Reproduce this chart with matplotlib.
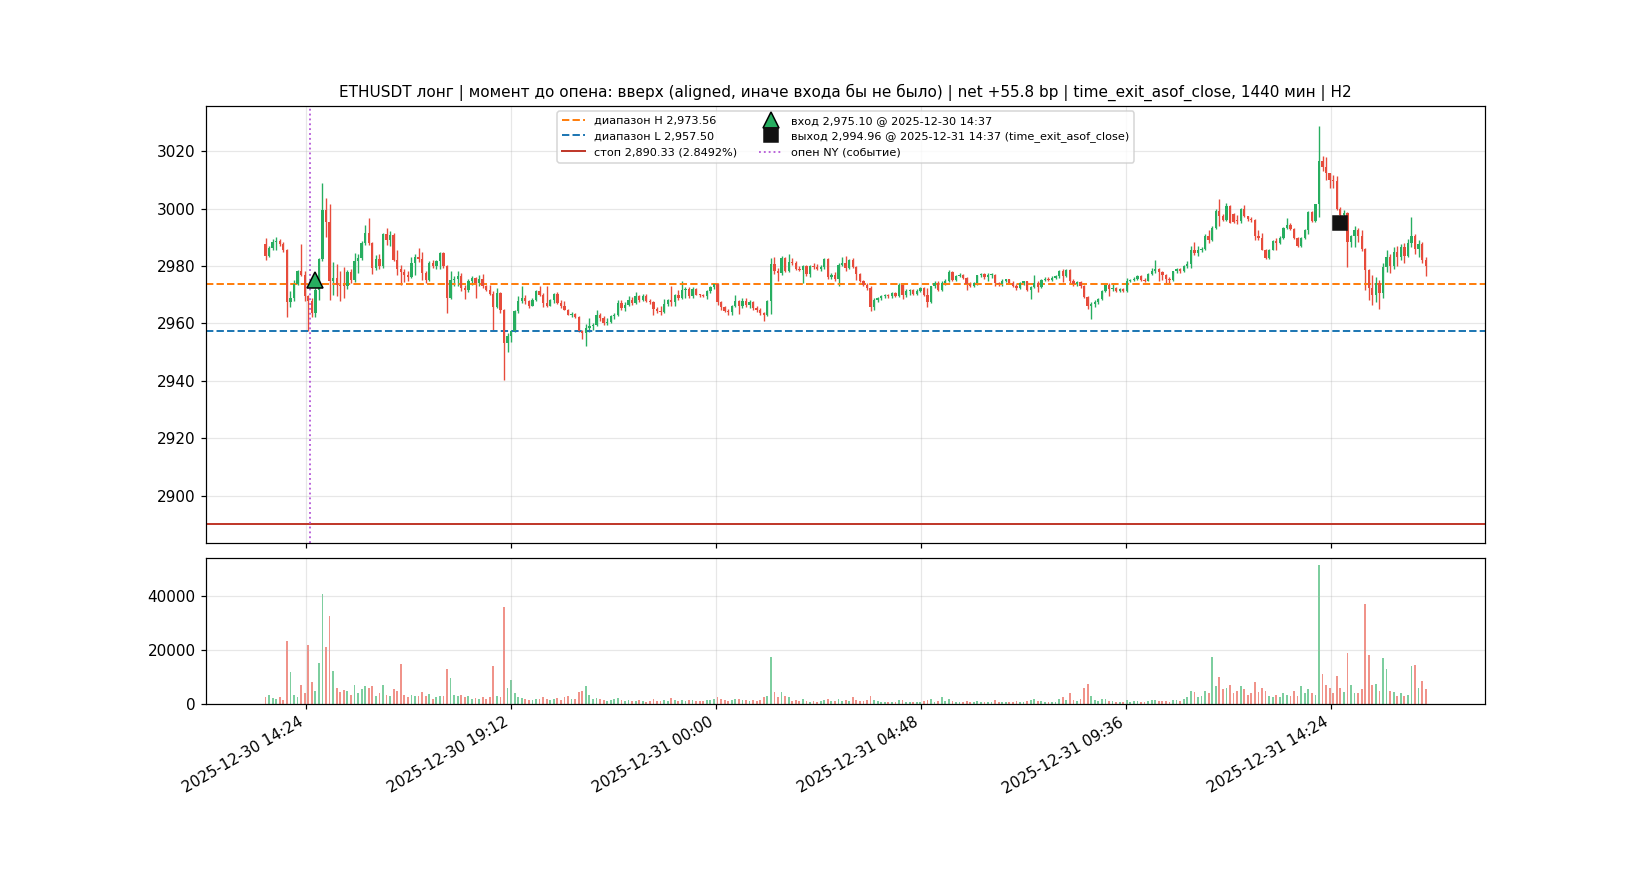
import numpy as np
import pandas as pd
import matplotlib
matplotlib.use("Agg")
import matplotlib.pyplot as plt
import matplotlib.dates as mdates

# 5-minute ETHUSDT candles, first bar 2025-12-30 13:27
START = "2025-12-30 13:27"
opens = [
    2987.7, 2983.4, 2986.3, 2988.3, 2988.8, 2987.8, 2985.5, 2967.4, 2969.0, 2973.7,
    2978.1, 2976.7, 2969.4, 2967.7, 2963.6, 2971.7, 2982.4, 2999.6, 2995.3, 2974.6,
    2975.8, 2973.5, 2973.2, 2973.0, 2977.9, 2975.0, 2981.6, 2982.8, 2988.0, 2991.5,
    2988.0, 2979.3, 2982.4, 2979.9, 2991.2, 2989.2, 2990.9, 2982.2, 2979.0, 2977.9,
    2976.9, 2976.2, 2981.0, 2983.0, 2982.6, 2977.6, 2975.2, 2981.0, 2979.9, 2981.6,
    2984.5, 2979.9, 2969.0, 2975.2, 2975.5, 2976.6, 2972.3, 2971.5, 2974.6, 2975.8,
    2974.1, 2975.5, 2973.1, 2971.8, 2970.3, 2965.7, 2970.6, 2964.8, 2953.1, 2955.7,
    2957.2, 2964.2, 2967.7, 2968.8, 2967.7, 2966.2, 2968.3, 2971.2, 2970.0, 2967.1,
    2966.2, 2968.0, 2970.3, 2967.1, 2965.9, 2964.8, 2963.0, 2963.3, 2962.4, 2957.2,
    2956.7, 2958.4, 2959.2, 2959.6, 2963.0, 2961.9, 2960.1, 2960.5, 2962.6, 2963.0,
    2967.1, 2965.3, 2966.5, 2968.3, 2967.0, 2969.6, 2968.1, 2969.7, 2967.9, 2967.3,
    2965.0, 2964.4, 2964.0, 2966.9, 2968.0, 2967.6, 2970.0, 2969.0, 2971.5, 2972.0,
    2969.4, 2972.1, 2970.0, 2969.8, 2969.5, 2971.2, 2972.6, 2973.6, 2967.4, 2965.6,
    2964.4, 2964.0, 2966.0, 2967.9, 2966.0, 2967.9, 2966.3, 2967.4, 2965.3, 2964.8,
    2963.6, 2963.0, 2967.7, 2980.7, 2978.1, 2977.6, 2982.8, 2978.1, 2981.4, 2980.9,
    2979.0, 2978.7, 2979.9, 2977.2, 2979.9, 2979.5, 2979.0, 2979.5, 2982.4, 2976.0,
    2977.0, 2975.6, 2980.5, 2980.9, 2979.2, 2982.2, 2979.5, 2977.2, 2974.9, 2973.5,
    2972.3, 2965.6, 2968.3, 2968.8, 2969.4, 2969.8, 2969.5, 2970.5, 2969.6, 2973.5,
    2969.8, 2971.4, 2971.6, 2970.3, 2971.3, 2972.3, 2969.8, 2967.4, 2972.9, 2974.0,
    2971.8, 2974.2, 2974.8, 2977.9, 2975.2, 2976.5, 2977.0, 2975.8, 2973.7, 2973.1,
    2973.9, 2976.7, 2977.1, 2976.1, 2976.8, 2977.0, 2974.0, 2973.6, 2974.9, 2975.3,
    2974.2, 2973.2, 2972.3, 2974.0, 2974.6, 2971.8, 2972.8, 2974.0, 2972.6, 2975.2,
    2975.6, 2975.1, 2975.9, 2976.4, 2978.4, 2976.4, 2978.5, 2974.6, 2973.6, 2974.3,
    2972.9, 2969.1, 2965.9, 2966.8, 2967.5, 2968.4, 2971.4, 2973.5, 2971.9, 2972.4,
    2971.2, 2972.0, 2971.2, 2974.8, 2975.0, 2975.6, 2976.6, 2975.0, 2974.9, 2977.3,
    2978.1, 2978.9, 2977.8, 2977.0, 2975.5, 2975.0, 2978.1, 2979.0, 2978.2, 2979.9,
    2980.8, 2985.7, 2984.5, 2985.4, 2986.0, 2990.3, 2988.9, 2993.2, 2999.1, 2997.5,
    2996.0, 3001.0, 2998.0, 2996.0, 2995.6, 2999.9, 2997.3, 2996.4, 2996.1, 2990.3,
    2989.7, 2985.7, 2982.8, 2985.7, 2988.6, 2988.1, 2989.8, 2993.2, 2994.4, 2992.9,
    2989.8, 2986.9, 2989.8, 2992.4, 2998.7, 2995.6, 3001.4, 3016.7, 3014.5, 3012.2,
    3009.9, 3009.5, 2999.9, 2997.9, 2998.6, 2988.2, 2990.3, 2992.4, 2990.6, 2985.9,
    2978.7, 2972.3, 2970.0, 2974.0, 2970.5, 2979.5, 2983.0, 2980.0, 2985.0, 2983.0,
    2986.5, 2983.5, 2988.0, 2990.5, 2986.0, 2987.5, 2982.0,
]
highs = [
    2989.8, 2986.9, 2989.5, 2990.0, 2989.5, 2988.5, 2985.8, 2971.2, 2975.2, 2978.7,
    2987.8, 2978.1, 2970.0, 2968.8, 2972.5, 2982.8, 3008.9, 3003.7, 3001.6, 2981.3,
    2980.7, 2978.1, 2979.5, 2978.5, 2979.0, 2984.5, 2984.2, 2988.6, 2994.1, 2996.7,
    2988.5, 2983.9, 2984.2, 2991.5, 2993.2, 2992.1, 2991.5, 2985.7, 2980.5, 2979.1,
    2978.3, 2983.0, 2984.2, 2986.3, 2984.8, 2978.2, 2981.6, 2982.0, 2982.2, 2984.8,
    2985.0, 2980.2, 2978.1, 2976.5, 2978.1, 2977.5, 2973.5, 2975.6, 2976.4, 2976.0,
    2977.0, 2977.3, 2973.5, 2973.5, 2971.2, 2972.3, 2971.0, 2965.0, 2956.5, 2957.8,
    2964.8, 2969.6, 2973.1, 2969.8, 2968.3, 2968.8, 2971.8, 2972.9, 2970.6, 2972.9,
    2968.5, 2970.6, 2970.8, 2968.3, 2967.7, 2965.1, 2964.0, 2963.6, 2962.7, 2957.8,
    2959.9, 2961.9, 2960.1, 2964.8, 2963.6, 2962.5, 2962.0, 2963.0, 2963.6, 2968.3,
    2968.0, 2967.6, 2969.4, 2969.2, 2970.8, 2970.0, 2970.4, 2970.2, 2968.4, 2967.9,
    2965.8, 2966.0, 2968.6, 2968.5, 2972.9, 2970.4, 2971.8, 2974.6, 2972.6, 2972.8,
    2972.6, 2972.3, 2970.3, 2970.2, 2971.5, 2973.0, 2974.1, 2973.9, 2967.9, 2966.2,
    2965.0, 2966.5, 2969.8, 2968.3, 2968.8, 2968.8, 2968.0, 2967.8, 2966.0, 2965.5,
    2964.0, 2968.2, 2982.8, 2983.0, 2979.4, 2983.4, 2983.2, 2984.2, 2982.8, 2981.9,
    2979.9, 2980.2, 2980.4, 2980.5, 2981.0, 2980.7, 2980.5, 2982.9, 2982.9, 2977.6,
    2977.9, 2981.0, 2983.0, 2983.4, 2982.5, 2982.8, 2980.1, 2977.7, 2975.2, 2974.2,
    2972.9, 2968.7, 2969.2, 2969.8, 2970.2, 2970.4, 2971.0, 2970.9, 2974.1, 2974.0,
    2971.9, 2972.0, 2972.0, 2971.9, 2972.6, 2972.7, 2972.3, 2973.2, 2974.6, 2974.6,
    2974.8, 2975.3, 2978.7, 2978.3, 2976.9, 2977.6, 2977.3, 2976.0, 2974.5, 2974.3,
    2977.0, 2977.6, 2977.4, 2977.5, 2977.4, 2977.3, 2974.4, 2975.4, 2975.6, 2975.6,
    2974.8, 2973.8, 2974.4, 2974.9, 2974.7, 2973.2, 2977.0, 2974.9, 2975.6, 2976.0,
    2976.2, 2976.4, 2977.0, 2978.7, 2978.8, 2978.9, 2978.9, 2975.3, 2974.6, 2974.8,
    2973.3, 2969.5, 2967.5, 2968.3, 2968.8, 2971.8, 2973.8, 2973.9, 2973.7, 2972.8,
    2972.3, 2972.4, 2975.8, 2975.6, 2976.1, 2977.0, 2977.0, 2975.8, 2977.6, 2979.3,
    2982.2, 2979.3, 2978.4, 2977.3, 2976.1, 2978.4, 2979.3, 2979.3, 2980.5, 2981.9,
    2986.9, 2988.2, 2986.8, 2986.6, 2991.3, 2992.4, 2993.8, 2999.9, 3003.3, 2998.1,
    3002.0, 3001.3, 2998.3, 2997.6, 3000.2, 3001.1, 2997.5, 2997.0, 2996.4, 2992.6,
    2991.5, 2985.9, 2985.9, 2988.9, 2989.8, 2990.3, 2993.6, 2996.7, 2994.8, 2993.2,
    2990.1, 2990.1, 2992.8, 2999.1, 2999.0, 3001.7, 3028.9, 3018.2, 3018.0, 3012.5,
    3011.8, 3011.3, 3000.4, 2999.4, 2998.7, 2990.9, 2994.0, 2993.2, 2992.4, 2986.4,
    2979.0, 2977.0, 2976.0, 2975.0, 2981.0, 2985.5, 2984.0, 2986.5, 2987.0, 2987.5,
    2988.0, 2989.5, 2997.2, 2991.0, 2989.0, 2988.5, 2983.0,
]
lows = [
    2982.0, 2983.0, 2985.5, 2985.5, 2987.0, 2985.0, 2962.4, 2965.6, 2967.7, 2973.3,
    2976.4, 2967.7, 2957.5, 2962.1, 2962.4, 2968.2, 2981.6, 2990.0, 2968.2, 2970.0,
    2969.7, 2967.9, 2969.0, 2972.0, 2974.0, 2974.5, 2977.5, 2982.2, 2987.4, 2987.4,
    2977.3, 2978.7, 2979.1, 2979.3, 2987.4, 2986.8, 2981.6, 2977.0, 2973.5, 2974.4,
    2974.8, 2975.8, 2977.0, 2981.5, 2975.2, 2974.1, 2974.9, 2979.3, 2979.0, 2979.1,
    2979.2, 2963.6, 2968.5, 2973.0, 2973.0, 2971.2, 2968.4, 2970.8, 2973.5, 2968.8,
    2972.9, 2972.3, 2971.2, 2970.0, 2957.8, 2965.3, 2963.8, 2940.4, 2949.9, 2953.4,
    2957.0, 2963.8, 2967.1, 2966.8, 2965.3, 2965.9, 2967.7, 2969.6, 2965.7, 2965.7,
    2965.9, 2967.0, 2966.8, 2965.3, 2964.6, 2962.9, 2962.1, 2961.9, 2956.9, 2954.6,
    2952.2, 2957.0, 2957.6, 2959.0, 2961.0, 2959.6, 2959.4, 2960.0, 2961.5, 2962.7,
    2964.5, 2964.3, 2966.2, 2966.3, 2966.8, 2967.5, 2967.8, 2967.4, 2966.6, 2963.0,
    2963.5, 2963.0, 2963.7, 2966.0, 2966.2, 2966.0, 2968.0, 2968.5, 2968.8, 2969.0,
    2969.0, 2969.8, 2969.3, 2969.2, 2968.6, 2970.5, 2972.0, 2966.5, 2964.8, 2963.9,
    2963.0, 2963.0, 2965.7, 2963.2, 2965.4, 2965.6, 2965.5, 2964.8, 2964.0, 2963.0,
    2961.0, 2962.6, 2963.3, 2977.2, 2974.6, 2977.0, 2977.8, 2977.9, 2980.5, 2978.7,
    2978.2, 2974.1, 2976.6, 2976.0, 2978.9, 2978.6, 2978.1, 2979.0, 2975.5, 2975.3,
    2974.9, 2972.9, 2980.0, 2978.4, 2978.9, 2979.2, 2975.2, 2974.5, 2973.1, 2971.8,
    2964.4, 2964.8, 2967.6, 2968.2, 2968.7, 2969.0, 2969.0, 2969.2, 2969.2, 2968.6,
    2969.2, 2970.0, 2969.8, 2969.9, 2971.0, 2969.4, 2965.6, 2967.0, 2972.3, 2971.2,
    2971.4, 2973.5, 2974.4, 2974.9, 2974.8, 2976.0, 2975.4, 2971.8, 2972.8, 2972.6,
    2973.5, 2976.2, 2975.5, 2974.7, 2975.8, 2973.2, 2973.0, 2973.2, 2974.4, 2973.9,
    2972.8, 2971.7, 2972.0, 2973.4, 2971.4, 2968.6, 2972.4, 2971.1, 2972.2, 2974.8,
    2974.6, 2974.7, 2975.4, 2975.8, 2974.4, 2976.0, 2973.9, 2973.0, 2973.2, 2972.5,
    2968.7, 2965.0, 2961.4, 2965.6, 2966.9, 2968.0, 2971.0, 2969.4, 2971.2, 2970.8,
    2970.9, 2970.9, 2970.9, 2974.3, 2974.6, 2975.2, 2974.6, 2974.4, 2974.6, 2976.9,
    2977.6, 2974.6, 2975.2, 2973.8, 2973.8, 2974.7, 2977.6, 2977.5, 2977.8, 2979.3,
    2979.3, 2983.8, 2983.4, 2984.7, 2985.4, 2988.0, 2988.7, 2992.9, 2993.8, 2995.5,
    2995.7, 2994.8, 2994.9, 2994.5, 2995.0, 2997.1, 2995.8, 2995.4, 2989.2, 2988.9,
    2985.4, 2982.4, 2982.5, 2985.4, 2985.7, 2987.8, 2989.5, 2992.9, 2992.5, 2989.4,
    2986.6, 2986.6, 2989.4, 2991.3, 2995.2, 2995.2, 2997.1, 3013.0, 3010.0, 3007.2,
    3007.2, 2999.6, 2996.6, 2997.2, 2979.6, 2986.6, 2986.6, 2988.5, 2985.2, 2971.7,
    2968.0, 2966.5, 2967.5, 2965.0, 2969.0, 2978.0, 2977.5, 2979.0, 2980.0, 2982.0,
    2981.0, 2983.0, 2986.5, 2984.0, 2983.0, 2981.0, 2976.5,
]
closes = [
    2983.4, 2986.3, 2988.3, 2988.8, 2987.8, 2985.5, 2967.4, 2969.0, 2973.7, 2978.1,
    2976.7, 2969.4, 2967.7, 2963.6, 2971.7, 2982.4, 2999.6, 2995.3, 2974.6, 2975.8,
    2973.5, 2973.2, 2973.0, 2977.9, 2975.0, 2981.6, 2982.8, 2988.0, 2991.5, 2988.0,
    2979.3, 2982.4, 2979.9, 2991.2, 2989.2, 2990.9, 2982.2, 2979.0, 2977.9, 2976.9,
    2976.2, 2981.0, 2983.0, 2982.6, 2977.6, 2975.2, 2981.0, 2979.9, 2981.6, 2984.5,
    2979.9, 2969.0, 2975.2, 2975.5, 2976.6, 2972.3, 2971.5, 2974.6, 2975.8, 2974.1,
    2975.5, 2973.1, 2971.8, 2970.3, 2965.7, 2970.6, 2964.8, 2953.1, 2955.7, 2957.2,
    2964.2, 2967.7, 2968.8, 2967.7, 2966.2, 2968.3, 2971.2, 2970.0, 2967.1, 2966.2,
    2968.0, 2970.3, 2967.1, 2965.9, 2964.8, 2963.0, 2963.3, 2962.4, 2957.2, 2956.7,
    2958.4, 2959.2, 2959.6, 2963.0, 2961.9, 2960.1, 2960.5, 2962.6, 2963.0, 2967.1,
    2965.3, 2966.5, 2968.3, 2967.0, 2969.6, 2968.1, 2969.7, 2967.9, 2967.3, 2965.0,
    2964.4, 2964.0, 2966.9, 2968.0, 2967.6, 2970.0, 2969.0, 2971.5, 2972.0, 2969.4,
    2972.1, 2970.0, 2969.8, 2969.5, 2971.2, 2972.6, 2973.6, 2967.4, 2965.6, 2964.4,
    2964.0, 2966.0, 2967.9, 2966.0, 2967.9, 2966.3, 2967.4, 2965.3, 2964.8, 2963.6,
    2963.0, 2967.7, 2980.7, 2978.1, 2977.6, 2982.8, 2978.1, 2981.4, 2980.9, 2979.0,
    2978.7, 2979.9, 2977.2, 2979.9, 2979.5, 2979.0, 2979.5, 2982.4, 2976.0, 2977.0,
    2975.6, 2980.5, 2980.9, 2979.2, 2982.2, 2979.5, 2977.2, 2974.9, 2973.5, 2972.3,
    2965.6, 2968.3, 2968.8, 2969.4, 2969.8, 2969.5, 2970.5, 2969.6, 2973.5, 2969.8,
    2971.4, 2971.6, 2970.3, 2971.3, 2972.3, 2969.8, 2967.4, 2972.9, 2974.0, 2971.8,
    2974.2, 2974.8, 2977.9, 2975.2, 2976.5, 2977.0, 2975.8, 2973.7, 2973.1, 2973.9,
    2976.7, 2977.1, 2976.1, 2976.8, 2977.0, 2974.0, 2973.6, 2974.9, 2975.3, 2974.2,
    2973.2, 2972.3, 2974.0, 2974.6, 2971.8, 2972.8, 2974.0, 2972.6, 2975.2, 2975.6,
    2975.1, 2975.9, 2976.4, 2978.4, 2976.4, 2978.5, 2974.6, 2973.6, 2974.3, 2972.9,
    2969.1, 2965.9, 2966.8, 2967.5, 2968.4, 2971.4, 2973.5, 2971.9, 2972.4, 2971.2,
    2972.0, 2971.2, 2974.8, 2975.0, 2975.6, 2976.6, 2975.0, 2974.9, 2977.3, 2978.1,
    2978.9, 2977.8, 2977.0, 2975.5, 2975.0, 2978.1, 2979.0, 2978.2, 2979.9, 2980.8,
    2985.7, 2984.5, 2985.4, 2986.0, 2990.3, 2988.9, 2993.2, 2999.1, 2997.5, 2996.0,
    3001.0, 2995.0, 2995.2, 2995.6, 2999.9, 2997.3, 2996.4, 2996.1, 2990.3, 2989.7,
    2985.7, 2982.8, 2985.7, 2988.6, 2988.1, 2989.8, 2993.2, 2994.4, 2992.9, 2989.8,
    2986.9, 2989.8, 2992.4, 2998.7, 2995.6, 3001.4, 3016.7, 3014.5, 3012.2, 3009.9,
    3009.5, 2999.9, 2997.9, 2998.6, 2988.2, 2990.3, 2992.4, 2990.6, 2985.9, 2978.7,
    2972.3, 2970.0, 2974.0, 2970.5, 2979.5, 2983.0, 2980.0, 2985.0, 2983.0, 2986.5,
    2983.5, 2988.0, 2990.5, 2986.0, 2987.5, 2982.0, 2980.0,
]
volumes = [
    2500, 3200, 2100, 1800, 2600, 1500, 23300, 12000, 3500, 2500,
    7000, 4000, 21800, 8000, 5000, 15300, 40700, 21200, 32500, 12400,
    6000, 4500, 5200, 4800, 3500, 7000, 4200, 5500, 6800, 5800,
    6500, 3000, 4200, 7000, 3500, 3000, 5500, 5000, 14800, 3200,
    2500, 3500, 3000, 2800, 4500, 3000, 3800, 2000, 2500, 3000,
    3000, 13000, 9500, 3500, 3000, 3200, 2500, 2800, 2000, 2200,
    1800, 2500, 2000, 2600, 14100, 3000, 2500, 36000, 6000, 9000,
    4000, 2500, 2200, 1800, 1500, 1600, 2000, 1800, 2500, 2000,
    1500, 1800, 2200, 1500, 2500, 3000, 1800, 2000, 4500, 5000,
    6800, 3500, 2000, 2200, 1800, 1500, 1200, 1500, 1800, 2200,
    1500, 1200, 1400, 1000, 1200, 1500, 1000, 900, 1200, 1800,
    1200, 1000, 1400, 1100, 2200, 1300, 1000, 1600, 1200, 1400,
    1500, 1200, 1000, 1100, 1400, 1600, 1800, 2500, 1800, 1500,
    1200, 1600, 2000, 1800, 1400, 1500, 1200, 1400, 1000, 1300,
    2500, 3000, 17500, 4500, 2500, 4500, 3000, 2500, 1200, 1500,
    1000, 1800, 1200, 900, 1000, 800, 1100, 1400, 2000, 1100,
    1000, 1800, 1200, 1300, 1100, 2500, 1500, 1200, 1000, 1300,
    2800, 1500, 1000, 800, 700, 600, 900, 700, 1500, 1600,
    800, 700, 900, 700, 800, 1000, 1500, 1800, 900, 1000,
    2500, 1000, 1800, 1200, 700, 600, 900, 1200, 700, 800,
    1100, 700, 600, 900, 600, 1300, 800, 700, 600, 700,
    900, 1100, 700, 600, 1200, 1500, 1800, 1100, 1000, 700,
    600, 700, 900, 1800, 2500, 1500, 4000, 1500, 1200, 2000,
    5800, 7500, 3000, 1500, 1200, 2000, 1800, 1200, 1000, 900,
    700, 800, 1500, 900, 1000, 1200, 800, 700, 1100, 1300,
    1500, 1200, 1000, 1100, 900, 1500, 1300, 1000, 2000, 2500,
    5000, 4500, 2500, 3000, 5000, 4000, 17500, 6500, 10000, 5500,
    6000, 7000, 4000, 5000, 6500, 5500, 3500, 4000, 8000, 4500,
    6000, 5000, 3000, 2500, 3500, 2500, 4000, 3500, 3000, 5000,
    3000, 6500, 4000, 5500, 4000, 3500, 51500, 11000, 7000, 6000,
    4000, 10500, 6000, 4500, 19000, 7000, 4000, 4000, 5500, 37000,
    18000, 7000, 7500, 5000, 17000, 13000, 5000, 4500, 3000, 4000,
    3000, 3500, 14000, 14500, 6000, 8500, 5500,
]

range_high = 2973.56
range_low = 2957.50
stop_price = 2890.33
entry_time, entry_price = "2025-12-30 14:37", 2975.10
exit_time, exit_price = "2025-12-31 14:37", 2994.96
ny_open_time = "2025-12-30 14:30"

GREEN = "#27ae60"
RED = "#e74c3c"


def plot_trade():
    t = mdates.date2num(pd.date_range(START, periods=len(closes), freq="5min"))
    o = np.array(opens)
    c = np.array(closes)
    up = c >= o
    colors = np.where(up, GREEN, RED)
    step = 5 / 1440

    fig, (ax, axv) = plt.subplots(2, 1, figsize=(15, 8), sharex=True,
                                  gridspec_kw={"height_ratios": [3, 1], "hspace": 0.05})

    # candles
    ax.vlines(t, lows, highs, colors=colors, linewidth=0.9, zorder=2)
    ax.bar(t, np.maximum(np.abs(c - o), 0.3), bottom=np.minimum(o, c), width=step * 0.65,
           color=colors, zorder=3)

    h_line = ax.axhline(range_high, color="tab:orange", ls="--", lw=1.3,
                        label=f"диапазон H {range_high:,.2f}")
    l_line = ax.axhline(range_low, color="tab:blue", ls="--", lw=1.3,
                        label=f"диапазон L {range_low:,.2f}")
    s_line = ax.axhline(stop_price, color="#c0392b", lw=1.3,
                        label=f"стоп {stop_price:,.2f} (2.8492%)")
    ny_line = ax.axvline(mdates.date2num(pd.Timestamp(ny_open_time)), color="#b65ad8",
                         ls=":", lw=1.2, label="опен NY (событие)")

    entry_mark, = ax.plot(mdates.date2num(pd.Timestamp(entry_time)), entry_price, marker="^",
                          ls="none", markersize=11, color=GREEN, markeredgecolor="black",
                          zorder=5, label=f"вход {entry_price:,.2f} @ {entry_time}")
    exit_mark, = ax.plot(mdates.date2num(pd.Timestamp(exit_time)), exit_price, marker="s",
                         ls="none", markersize=9.5, color="#111111", markeredgecolor="#111111",
                         zorder=5,
                         label=f"выход {exit_price:,.2f} @ {exit_time} (time_exit_asof_close)")

    ax.legend(handles=[h_line, l_line, s_line, entry_mark, exit_mark, ny_line],
              loc="upper center", ncol=2, fontsize=7.4)
    ax.grid(alpha=0.3)
    ax.set_title("ETHUSDT лонг | момент до опена: вверх (aligned, иначе входа бы не было) | "
                 "net +55.8 bp | time_exit_asof_close, 1440 мин | H2", fontsize=10)

    # volume
    axv.bar(t, volumes, width=step * 0.5, color=colors, alpha=0.6)
    axv.grid(alpha=0.3)
    axv.xaxis.set_major_formatter(mdates.DateFormatter("%Y-%m-%d %H:%M"))

    fig.autofmt_xdate()
    fig.savefig("out.png", dpi=110)


def main():
    plot_trade()


if __name__ == "__main__":
    main()
